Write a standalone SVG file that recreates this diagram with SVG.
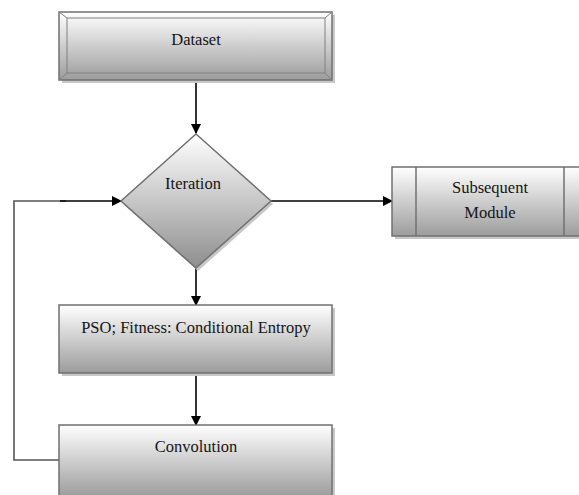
<svg xmlns="http://www.w3.org/2000/svg" width="579" height="495" viewBox="0 0 579 495">
<defs>
<linearGradient id="g" x1="0" y1="0" x2="0" y2="1">
<stop offset="0" stop-color="#ffffff"/>
<stop offset="1" stop-color="#9c9c9c"/>
</linearGradient>
<linearGradient id="gd" x1="0" y1="0" x2="0" y2="1">
<stop offset="0" stop-color="#ffffff"/>
<stop offset="1" stop-color="#8e8e8e"/>
</linearGradient>
<marker id="arr" markerWidth="10" markerHeight="10" refX="9" refY="5" orient="auto" markerUnits="userSpaceOnUse">
<path d="M0,0 L10,5 L0,10 z" fill="#000"/>
</marker>
</defs>
<style>
.box{fill:url(#g);stroke:#707070;stroke-width:1.5}
.sh{fill:#c8c8c8}
.t{font-family:'Liberation Serif','Times New Roman',serif;font-size:16.5px;fill:#151515;text-anchor:middle}
.c{fill:none;stroke:#000;stroke-width:1.6}
.loop{fill:none;stroke:#555;stroke-width:1.6}
</style>
<rect width="579" height="495" fill="#ffffff"/>
<g id="connectors">
<line class="c" x1="196" y1="81" x2="196" y2="133" marker-end="url(#arr)"/>
<line class="c" x1="271" y1="201" x2="392" y2="201" marker-end="url(#arr)"/>
<line class="c" x1="196" y1="268" x2="196" y2="305" marker-end="url(#arr)"/>
<line class="c" x1="196" y1="374" x2="196" y2="425" marker-end="url(#arr)"/>
<polyline class="loop" points="59,460 14,460 14,201 66,201"/>
<line class="c" x1="60" y1="201" x2="121" y2="201" marker-end="url(#arr)"/>
</g>
<g id="dataset">
<rect class="sh" x="62" y="15" width="273" height="68"/>
<rect class="box" x="59" y="12" width="273" height="68"/>
<rect x="67" y="18" width="258" height="55" fill="none" stroke="#808080" stroke-width="1"/>
<line x1="59" y1="12" x2="67" y2="18" stroke="#808080"/>
<line x1="332" y1="12" x2="325" y2="18" stroke="#808080"/>
<line x1="59" y1="80" x2="67" y2="73" stroke="#808080"/>
<line x1="332" y1="80" x2="325" y2="73" stroke="#808080"/>
<text class="t" x="196" y="45" font-family="Liberation Serif, serif">Dataset</text>
</g>
<g id="iteration">
<polygon points="198,137 273,204 198,271 123,204" fill="#c8c8c8"/>
<polygon points="196,134 271,201 196,268 121,201" fill="url(#gd)" stroke="#707070" stroke-width="1.5"/>
<text class="t" x="193" y="189" font-family="Liberation Serif, serif">Iteration</text>
</g>
<g id="subsequent">
<rect class="sh" x="395" y="170" width="190" height="69"/>
<rect class="box" x="392" y="167" width="190" height="69"/>
<line x1="416" y1="167" x2="416" y2="236" stroke="#707070" stroke-width="1.5"/>
<line x1="564" y1="167" x2="564" y2="236" stroke="#707070" stroke-width="1.5"/>
<text class="t" x="490" y="193" font-family="Liberation Serif, serif">Subsequent</text>
<text class="t" x="490" y="218" font-family="Liberation Serif, serif">Module</text>
</g>
<g id="pso">
<rect class="sh" x="62" y="308" width="273" height="68"/>
<rect class="box" x="59" y="305" width="273" height="68"/>
<text class="t" x="196" y="333" font-family="Liberation Serif, serif">PSO; Fitness: Conditional Entropy</text>
</g>
<g id="convolution">
<rect class="sh" x="62" y="428" width="273" height="70"/>
<rect class="box" x="59" y="425" width="273" height="72"/>
<text class="t" x="196" y="452" font-family="Liberation Serif, serif">Convolution</text>
</g>
</svg>
